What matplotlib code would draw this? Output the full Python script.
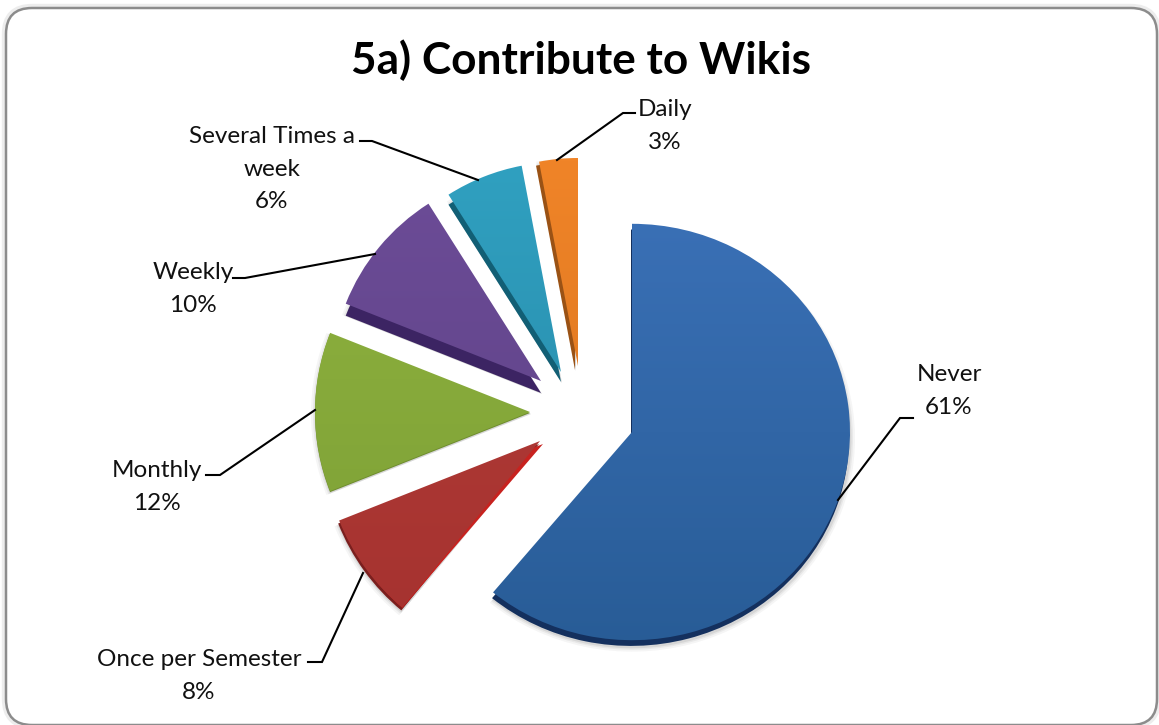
import numpy as np
import matplotlib
matplotlib.use("Agg")
import matplotlib.pyplot as plt
from matplotlib.patches import Wedge, FancyBboxPatch
from matplotlib.colors import LinearSegmentedColormap
from matplotlib.transforms import Affine2D

W, H = 1159, 725
categories = ["Never", "Once per Semester", "Monthly", "Weekly", "Several Times a\nweek", "Daily"]
values = [61, 8, 12, 10, 6, 3]
title = "5a) Contribute to Wikis"

top_colors = ["#3A70B6", "#B23C38", "#8FB23E", "#6C4C97", "#30A0C0", "#F08428"]
bot_colors = ["#285C96", "#A5322F", "#7C9F36", "#5E4286", "#2789A8", "#D9751F"]
side_colors = ["#14305E", "#7A1F1E", "#6E8C2E", "#3C2463", "#125F75", "#9A5215"]

# slice apex in image pixels, radius, vertical squash, side depth (dx, dy)
apex = [(632, 432), (540, 441), (530, 412), (541, 381), (561, 372), (578, 366)]
radii = [218, 216, 215, 210, 210, 208]
squash = [0.955, 1, 1, 1, 1, 1]
depth = [(-1, 6), (-1, 3), (0, 1), (0, 12), (0, 10), (-3, 4)]

label_pos = [(949, 391), (199, 676), (157, 487), (193, 289), (272, 169), (665, 126)]
leaders = [
    [(838, 500), (900, 418), (913, 418)],
    [(363, 573), (322, 662), (308, 662)],
    [(315, 410), (220, 475), (206, 475)],
    [(375, 254), (245, 278), (233, 278)],
    [(478, 180), (372, 141), (360, 141)],
    [(557, 160), (623, 113), (635, 113)],
]

plt.rcParams["font.family"] = ["Lato", "DejaVu Sans"]
fig = plt.figure(figsize=(W / 100, H / 100), dpi=100)
ax = fig.add_axes([0, 0, 1, 1])
ax.set_xlim(0, W)
ax.set_ylim(0, H)


def Y(py):
    return H - py


# frame: the bottom edge sits on the canvas edge
ax.add_patch(FancyBboxPatch((6, Y(725)), 1151, 717, boxstyle="round,pad=0,rounding_size=26",
                            fc="none", ec="#EDEDED", lw=6, zorder=0.5))
ax.add_patch(FancyBboxPatch((6, Y(725)), 1151, 717, boxstyle="round,pad=0,rounding_size=26",
                            fc="white", ec="#8C8C8C", lw=1.8, zorder=1))

wedges, _ = ax.pie(values, startangle=90, counterclock=False, radius=215,
                   colors=top_colors, wedgeprops=dict(lw=0), frame=True)
ax.set_xlim(0, W)
ax.set_ylim(0, H)
ax.set_aspect("auto")

for i, w in enumerate(wedges):
    cx, cy = apex[i][0], Y(apex[i][1])
    r = radii[i]
    w.set_center((cx, cy))
    w.set_radius(r)
    w.set_zorder(4)
    w.set_alpha(0)
    dx, dy = depth[i]
    shape = (Affine2D().translate(0, -cy).scale(1, squash[i]).translate(0, cy)) + ax.transData
    # soft shadow
    for k, a in [(5, 0.05), (3, 0.07), (1.5, 0.1)]:
        ax.add_patch(Wedge((cx + dx + 1, cy - dy - 1), r + k, w.theta1, w.theta2, fc="#404040", alpha=a, lw=0,
                           zorder=2, transform=shape))
    ax.add_patch(Wedge((cx + dx, cy - dy), r, w.theta1, w.theta2, fc=side_colors[i], lw=0, zorder=3, transform=shape))
    if i == 1:  # bright bevel on the red slice
        ax.add_patch(Wedge((cx + 3, cy - 3), r, w.theta1, w.theta2 - 1, fc="#C8221F", lw=0, zorder=3.2))
    clip = Wedge((cx, cy), r, w.theta1, w.theta2, transform=shape, fc="none", lw=0)
    ax.add_patch(clip)
    clip.set_transform(shape)
    cmap = LinearSegmentedColormap.from_list(f"c{i}", [bot_colors[i], top_colors[i]])
    grad = np.linspace(0, 1, 128).reshape(-1, 1)
    im = ax.imshow(grad, origin="lower", cmap=cmap, aspect="auto", zorder=4,
                   extent=(cx - r, cx + r, cy - r, cy + r), interpolation="bilinear")
    im.set_clip_path(clip)

for pts in leaders:
    xs, ys = zip(*pts)
    ax.plot(xs, [Y(y) for y in ys], color="black", lw=1.5, zorder=6, solid_joinstyle="miter")

for name, v, (x, y) in zip(categories, values, label_pos):
    ax.text(x, Y(y), f"{name}\n{v}%", ha="center", va="center", fontsize=17.5,
            color="#111111", linespacing=1.66, zorder=7)

ax.text(581, Y(60), title, ha="center", va="center", fontsize=31.8, fontweight="bold", color="black", zorder=7)

ax.set_xlim(0, W)
ax.set_ylim(0, H)
ax.set_aspect("auto")
ax.axis("off")
fig.savefig("out.png", dpi=100, facecolor="white")
